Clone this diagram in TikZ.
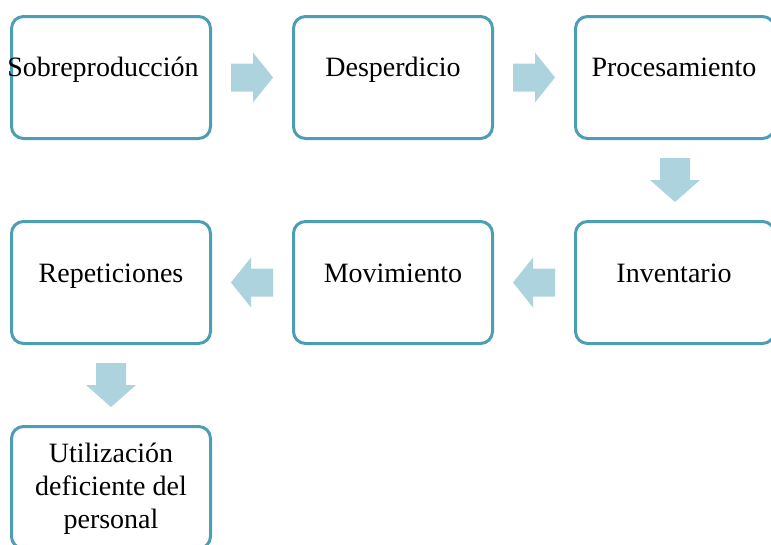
\documentclass[tikz,border=0pt]{standalone}
\usepackage{fontspec}
\setmainfont{Liberation Serif}
\usetikzlibrary{calc}
\definecolor{boxline}{RGB}{75,158,180}
\definecolor{arrowfill}{RGB}{173,211,223}
\tikzset{
  box/.style={draw=boxline, line width=3pt, rounded corners=12pt, fill=white,
    minimum width=199pt, minimum height=122pt, inner sep=0pt},
  lbl/.style={font=\fontsize{28}{33}\selectfont, inner sep=0pt, anchor=base, align=center},
  blockarrow/.style={fill=arrowfill, draw=none}
}
\begin{document}
\begin{tikzpicture}[x=1pt,y=1pt]
\useasboundingbox (0,0) rectangle (771,-544);
\clip (0,0) rectangle (771,-544);
% boxes
\node[box] (b1) at (111,-77.5) {};
\node[box] (b2) at (393,-77.5) {};
\node[box] (b3) at (675,-77.5) {};
\node[box] (b4) at (111,-282.5) {};
\node[box] (b5) at (393,-282.5) {};
\node[box] (b6) at (675,-282.5) {};
\node[box] (b7) at (111,-487.5) {};
% labels
\node[lbl] (t1) at (103,-76) {Sobreproducción};
\node[lbl] (t2) at (393,-76) {Desperdicio};
\node[lbl] (t3) at (674,-76) {Procesamiento};
\node[lbl] (t4) at (111,-282) {Repeticiones};
\node[lbl] (t5) at (393,-282) {Movimiento};
\node[lbl] (t6) at (674,-282) {Inventario};
\node[lbl, anchor=north] (t7) at (111,-443) {Utilización\\deficiente del\\personal};
% block arrows (right)
\fill[blockarrow] ($(b1.east)!0.5!(b2.west)$) ++(-21,-14) -- ++(22,0) -- ++(0,-11) -- ++(20,25) -- ++(-20,25) -- ++(0,-11) -- ++(-22,0) -- cycle;
\fill[blockarrow] ($(b2.east)!0.5!(b3.west)$) ++(-21,-14) -- ++(22,0) -- ++(0,-11) -- ++(20,25) -- ++(-20,25) -- ++(0,-11) -- ++(-22,0) -- cycle;
% block arrows (left)
\fill[blockarrow] ($(b6.west)!0.5!(b5.east)$) ++(21,-14) -- ++(-22,0) -- ++(0,-11) -- ++(-20,25) -- ++(20,25) -- ++(0,-11) -- ++(22,0) -- cycle;
\fill[blockarrow] ($(b5.west)!0.5!(b4.east)$) ++(21,-14) -- ++(-22,0) -- ++(0,-11) -- ++(-20,25) -- ++(20,25) -- ++(0,-11) -- ++(22,0) -- cycle;
% block arrows (down)
\fill[blockarrow] ($(b3.south)!0.5!(b6.north)$) ++(-15,22) -- ++(0,-22) -- ++(-10,0) -- ++(25,-22) -- ++(25,22) -- ++(-10,0) -- ++(0,22) -- cycle;
\fill[blockarrow] ($(b4.south)!0.5!(b7.north)$) ++(-15,22) -- ++(0,-22) -- ++(-10,0) -- ++(25,-22) -- ++(25,22) -- ++(-10,0) -- ++(0,22) -- cycle;
\end{tikzpicture}
\end{document}
